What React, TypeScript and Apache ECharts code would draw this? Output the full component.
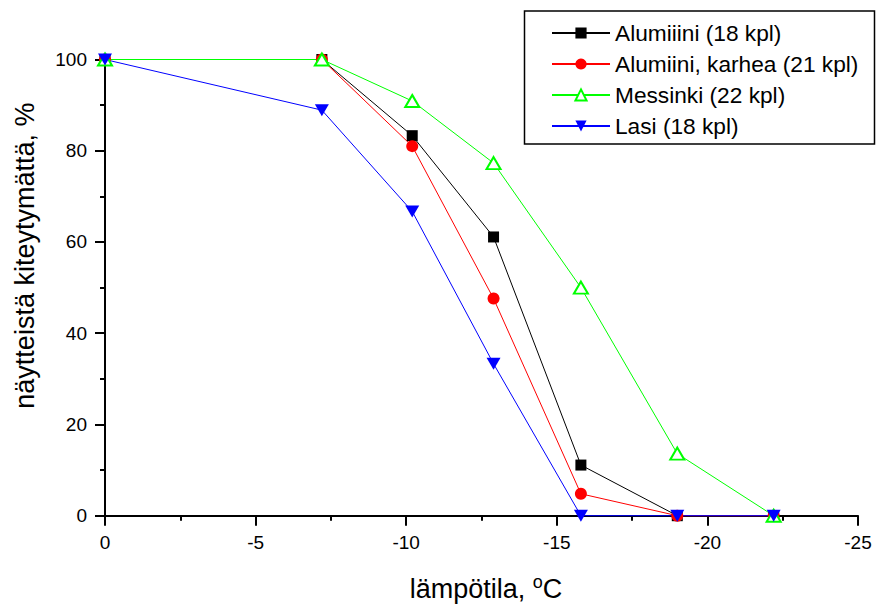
import React, { useEffect, useRef } from "react";
import * as echarts from "echarts";

const temperatures = [0, -7.2, -10.2, -12.9, -15.8, -19.0, -22.2];
const alumiiini = [100, 100, 83.3, 61.1, 11.1, 0, 0];
const alumiiniKarhea = [100, 100, 81.0, 47.6, 4.8, 0, 0];
const messinki = [100, 100, 90.9, 77.3, 50.0, 13.6, 0];
const lasi = [100, 88.9, 66.7, 33.3, 0, 0, 0];

const seriesNames = [
  "Alumiiini (18 kpl)",
  "Alumiini, karhea (21 kpl)",
  "Messinki (22 kpl)",
  "Lasi (18 kpl)",
];

const FONT = "Liberation Sans, Arial, Helvetica, sans-serif";

const pairs = (ys: number[]) => temperatures.map((t, i) => [t, ys[i]]);

export default function App() {
  const ref = useRef<HTMLDivElement>(null);
  useEffect(() => {
    if (!ref.current) return;
    const chart = echarts.init(ref.current, undefined, { renderer: "svg" });
    const axisCommon = {
      axisLine: { show: true, lineStyle: { color: "#000", width: 2 } },
      axisTick: { show: true, inside: false, length: 10, lineStyle: { color: "#000", width: 2 } },
      minorTick: { show: true, splitNumber: 2, length: 5, lineStyle: { color: "#000", width: 2 } },
      splitLine: { show: false },
      axisLabel: { color: "#000", fontSize: 19, fontFamily: FONT, margin: 18 },
    };
    chart.setOption({
      animation: false,
      backgroundColor: "#fff",
      textStyle: { fontFamily: FONT },
      grid: {
        left: 105,
        right: 18,
        top: 59.5,
        bottom: 89.3,
        containLabel: false,
        outerBoundsMode: "none",
      },
      xAxis: {
        type: "value",
        min: -25,
        max: 0,
        interval: 5,
        inverse: true,
        ...axisCommon,
        axisLabel: { ...axisCommon.axisLabel, margin: 17 },
        name: "lämpötila, {sup|o}C",
        nameLocation: "middle",
        nameGap: 57,
        nameTextStyle: {
          color: "#000",
          fontSize: 27,
          fontFamily: FONT,
          padding: [0, 0, 0, 9],
          rich: {
            sup: { fontSize: 18, fontFamily: FONT, color: "#000", verticalAlign: "top", padding: [0, 0, 14, 0] },
          },
        },
      },
      yAxis: {
        type: "value",
        min: 0,
        max: 100,
        interval: 20,
        ...axisCommon,
        name: "näytteistä kiteytymättä, %",
        nameLocation: "middle",
        nameGap: 67,
        nameTextStyle: { color: "#000", fontSize: 27, fontFamily: FONT, padding: [0, 0, 0, 64] },
      },
      legend: {
        orient: "vertical",
        left: 551,
        top: 17.5,
        padding: 0,
        itemWidth: 58,
        itemHeight: 14,
        itemGap: 0,
        textStyle: { color: "#000", fontSize: 22.7, fontFamily: FONT, lineHeight: 31 },
        data: seriesNames,
      },
      graphic: [
        {
          type: "rect",
          shape: { x: 524.5, y: 11, width: 350, height: 133 },
          style: { fill: "none", stroke: "#000", lineWidth: 1.5 },
          z: 100,
        },
      ],
      series: [
        {
          name: seriesNames[0],
          type: "line",
          data: pairs(alumiiini),
          symbol: "rect",
          symbolSize: 11,
          clip: false,
          lineStyle: { color: "#000", width: 1 },
          itemStyle: { color: "#000" },
        },
        {
          name: seriesNames[1],
          type: "line",
          data: pairs(alumiiniKarhea),
          symbol: "circle",
          symbolSize: 12,
          clip: false,
          lineStyle: { color: "#ff0000", width: 1 },
          itemStyle: { color: "#ff0000" },
        },
        {
          name: seriesNames[2],
          type: "line",
          data: pairs(messinki),
          symbol: "emptyTriangle",
          symbolSize: [14, 12],
          clip: false,
          lineStyle: { color: "#00ff00", width: 1 },
          itemStyle: { color: "#00ff00", borderWidth: 1.5 },
        },
        {
          name: seriesNames[3],
          type: "line",
          data: pairs(lasi),
          symbol: "triangle",
          symbolRotate: 180,
          symbolSize: [14, 12],
          clip: false,
          lineStyle: { color: "#0000ff", width: 1 },
          itemStyle: { color: "#0000ff" },
        },
      ],
    });
    return () => chart.dispose();
  }, []);
  return <div ref={ref} style={{ width: 876, height: 605, position: "absolute", left: 0, top: 0 }} />;
}
